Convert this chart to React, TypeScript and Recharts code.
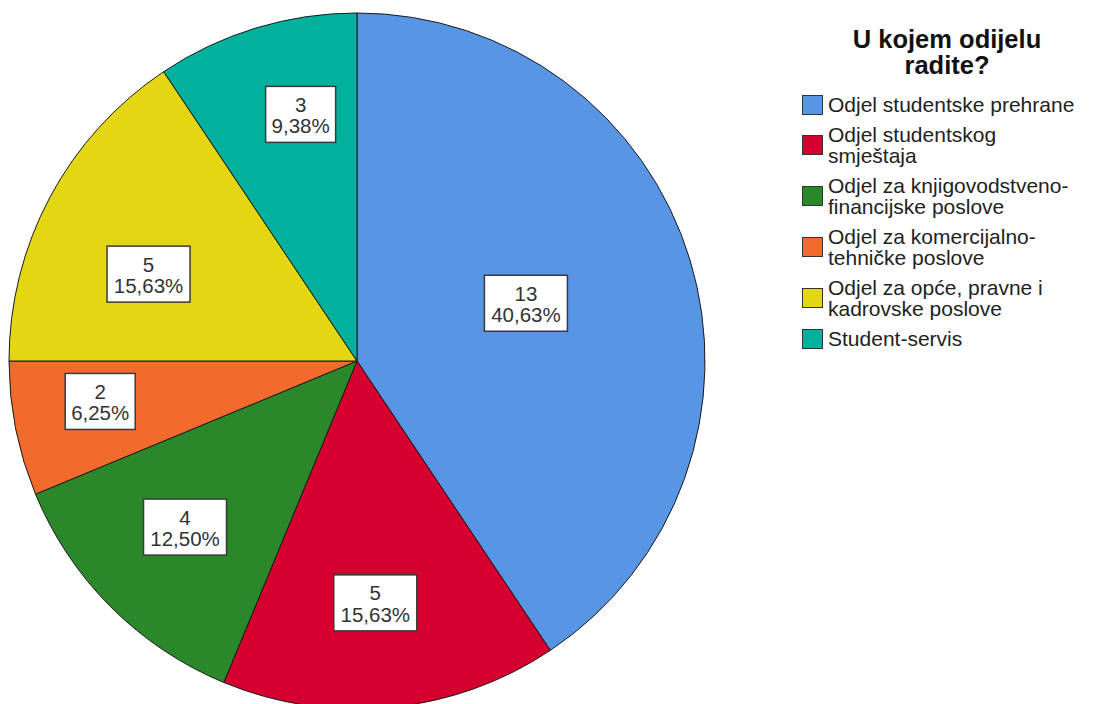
import React from "react";
import { PieChart, Pie, Cell, Legend } from "recharts";

const CATEGORIES = [
  "Odjel studentske prehrane",
  "Odjel studentskog\nsmještaja",
  "Odjel za knjigovodstveno-\nfinancijske poslove",
  "Odjel za komercijalno-\ntehničke poslove",
  "Odjel za opće, pravne i\nkadrovske poslove",
  "Student-servis",
];
const COUNTS = [13, 5, 4, 2, 5, 3];
const TITLE = ["U kojem odijelu", "radite?"];

const COLORS = ["#5896e5", "#d6002f", "#2a872a", "#f26b2c", "#e3d612", "#02b09e"];
// per-slice label placement: fraction of radius, clockwise nudge in degrees
const LABEL_RADIUS = [0.513, 0.697, 0.687, 0.747, 0.649, 0.727];
const LABEL_NUDGE = [-2, 1.3, 1, 2.3, -5.5, 4];

const FONT = '"Liberation Sans", Arial, sans-serif';
const RAD = Math.PI / 180;
const total = COUNTS.reduce((a, b) => a + b, 0);

const data = CATEGORIES.map((name, i) => ({
  name: name.replace("\n", " "),
  value: COUNTS[i],
}));

const pct = (v: number) => ((v / total) * 100).toFixed(2).replace(".", ",") + "%";

function SliceLabel(props: any) {
  const { cx, cy, midAngle, outerRadius, index, value } = props;
  const angle = midAngle - LABEL_NUDGE[index];
  const r = outerRadius * LABEL_RADIUS[index];
  const x = cx + r * Math.cos(-angle * RAD);
  const y = cy + r * Math.sin(-angle * RAD);
  const line2 = pct(value);
  const w = 13 * line2.length + 5;
  const h = 56;
  return (
    <g>
      <rect x={x - w / 2} y={y - h / 2} width={w} height={h} fill="#fff" stroke="#3a3a3a" strokeWidth={1.5} />
      <text x={x} y={y - 2.5} textAnchor="middle" fontFamily={FONT} fontSize={20.5} fill="#333">
        {value}
      </text>
      <text x={x} y={y + 19} textAnchor="middle" fontFamily={FONT} fontSize={20.5} fill="#333">
        {line2}
      </text>
    </g>
  );
}

function LegendBox() {
  return (
    <div style={{ width: 290, fontFamily: FONT, color: "#222" }}>
      <div
        style={{
          textAlign: "center",
          fontWeight: "bold",
          fontSize: 25.5,
          lineHeight: "26px",
          color: "#111",
          marginBottom: 16,
        }}
      >
        {TITLE.map((t) => (
          <div key={t}>{t}</div>
        ))}
      </div>
      {CATEGORIES.map((name, i) => (
        <div key={name} style={{ display: "flex", alignItems: "center", marginBottom: 9 }}>
          <div
            style={{
              width: 19,
              height: 18,
              background: COLORS[i],
              border: "1px solid #333",
              marginRight: 5,
              flexShrink: 0,
            }}
          />
          <div style={{ whiteSpace: "pre", fontSize: 21, lineHeight: "21px" }}>{name}</div>
        </div>
      ))}
    </div>
  );
}

export default function App() {
  return (
    <div style={{ position: "absolute", left: 0, top: 0, background: "#fff" }}>
      <PieChart width={1094} height={704} margin={{ top: 0, right: 0, bottom: 0, left: 0 }}>
        <Pie
          data={data}
          dataKey="value"
          nameKey="name"
          cx={357}
          cy={361}
          outerRadius={348}
          startAngle={90}
          endAngle={-270}
          stroke="#1a1a1a"
          strokeWidth={1}
          label={SliceLabel}
          labelLine={false}
          isAnimationActive={false}
        >
          {data.map((d, i) => (
            <Cell key={d.name} fill={COLORS[i]} />
          ))}
        </Pie>
        <Legend
          layout="vertical"
          content={() => <LegendBox />}
          wrapperStyle={{ left: 802, top: 26, width: 290, bottom: "auto" }}
        />
      </PieChart>
    </div>
  );
}
